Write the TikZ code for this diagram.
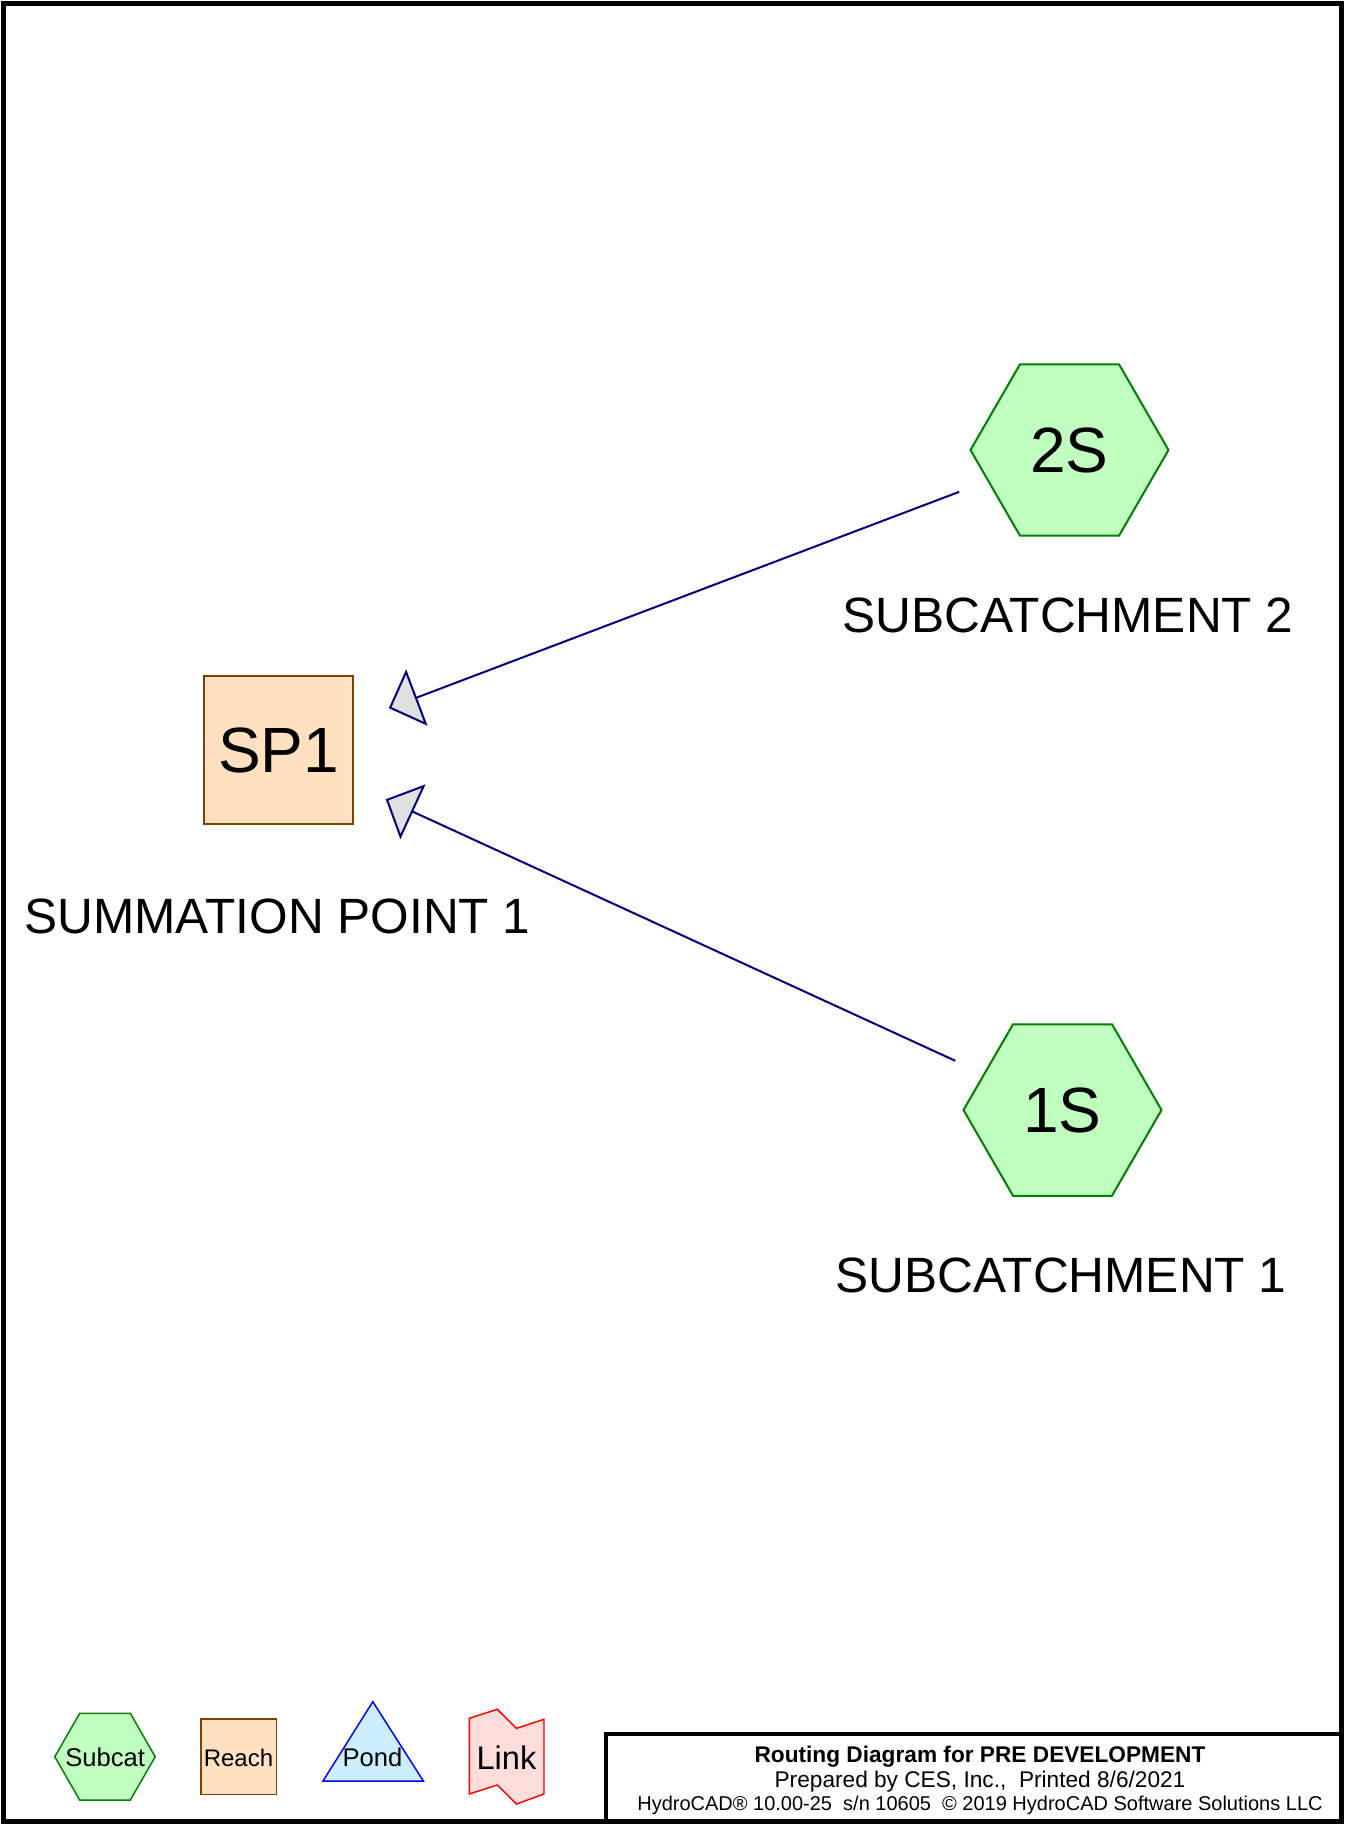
\documentclass[tikz,border=0pt]{standalone}
\usepackage{fontspec}
\setmainfont{Liberation Sans}
\usetikzlibrary{arrows.meta,shapes.geometric}
\definecolor{subfill}{HTML}{C0FFC0}
\definecolor{subdraw}{HTML}{008000}
\definecolor{reachfill}{HTML}{FFE0C0}
\definecolor{reachdraw}{HTML}{804000}
\definecolor{pondfill}{HTML}{CCEEFF}
\definecolor{ponddraw}{HTML}{0000FF}
\definecolor{linkfill}{HTML}{FFDDDD}
\definecolor{linkdraw}{HTML}{FF0000}
\definecolor{flowcol}{HTML}{000080}
\definecolor{tipfill}{HTML}{E0E0E0}
\frenchspacing
\begin{document}
\begin{tikzpicture}[x=0.75pt,y=-0.75pt,
  subcat/.style={shape=regular polygon, regular polygon sides=6, minimum size=148.5pt,
    inner sep=0pt, outer sep=0pt, draw=subdraw, fill=subfill, line width=1.5pt,
    font=\fontsize{48}{48}\selectfont},
  reach/.style={rectangle, minimum width=111.75pt, minimum height=111pt, inner sep=0pt,
    outer sep=0pt, draw=reachdraw, fill=reachfill, line width=1.5pt,
    font=\fontsize{48}{48}\selectfont},
  caption/.style={anchor=base, inner sep=0pt, font=\fontsize{37.2}{37.2}\selectfont},
  flow/.style={draw=flowcol, line width=1.5pt, shorten <=88.5pt, shorten >=88.5pt,
    -{Triangle[length=22.5pt,width=45pt,fill=tipfill]}},
  legtext/.style={anchor=base, inner sep=0pt, font=\fontsize{19.2}{19.2}\selectfont},
  legshape/.style={line width=1.1pt, line join=miter},
  titletext/.style={anchor=base, inner sep=0pt, font=\fontsize{17}{17}\selectfont},
  frame/.style={draw=black, line width=3.4pt}
]
\useasboundingbox (0,0) rectangle (1345,1825);
\fill[white] (0,0) rectangle (1345,1825);
\draw[frame] (3.5,3.5) rectangle (1341.5,1821.5);

% main nodes
\node[subcat] (n2S) at (1069.5,450) {2S};
\node[caption] (c2S) at (1068,632.5) {SUBCATCHMENT 2};
\node[subcat] (n1S) at (1062.5,1110) {1S};
\node[caption] (c1S) at (1061,1292.5) {SUBCATCHMENT 1};
\node[reach] (SP1) at (278.5,750) {SP1};
\node[caption] (cSP1) at (277.5,933) {SUMMATION POINT 1};

% connectors
\draw[flow] (n2S.center) -- (SP1.center);
\draw[flow] (n1S.center) -- (SP1.center);

% legend
\draw[legshape, draw=subdraw, fill=subfill] (54.8,1756.7) -- (79.7,1713.3) -- (130.3,1713.3)
  -- (155.2,1756.7) -- (130.3,1800) -- (79.7,1800) -- cycle;
\node[legtext] (lsub) at (105.2,1766.5) {Subcat};
\draw[legshape, draw=reachdraw, fill=reachfill] (201.1,1719) rectangle (276.6,1794.3);
\node[legtext, font=\fontsize{18}{18}\selectfont] (lreach) at (238.5,1766.5) {Reach};
\draw[legshape, draw=ponddraw, fill=pondfill] (372.8,1701.7) -- (423.4,1781) -- (323,1781) -- cycle;
\node[legtext] (lpond) at (372.4,1766.5) {Pond};
\draw[legshape, draw=linkdraw, fill=linkfill] (469.3,1718.3) -- (497.3,1709.3) -- (516.5,1728.3)
  -- (544,1719.3) -- (544,1794) -- (516.5,1804) -- (497.3,1785) -- (469.3,1794) -- cycle;
\node[legtext, font=\fontsize{24.5}{24.5}\selectfont] (llink) at (506.5,1769.5) {Link};

% title block
\draw[frame, line width=2.6pt] (606,1821.5) |- (1341.5,1734);
\node[titletext, font=\bfseries\fontsize{17}{17}\selectfont] (t1) at (980,1762) {Routing Diagram for PRE DEVELOPMENT};
\node[titletext] (t2) at (980,1787) {Prepared by CES, Inc.,\ \ Printed 8/6/2021};
\node[titletext, font=\fontsize{15}{15}\selectfont] (t3) at (980,1810.5) {HydroCAD® 10.00-25\ \ s/n 10605\ \ © 2019 HydroCAD Software Solutions LLC};
\end{tikzpicture}
\end{document}
